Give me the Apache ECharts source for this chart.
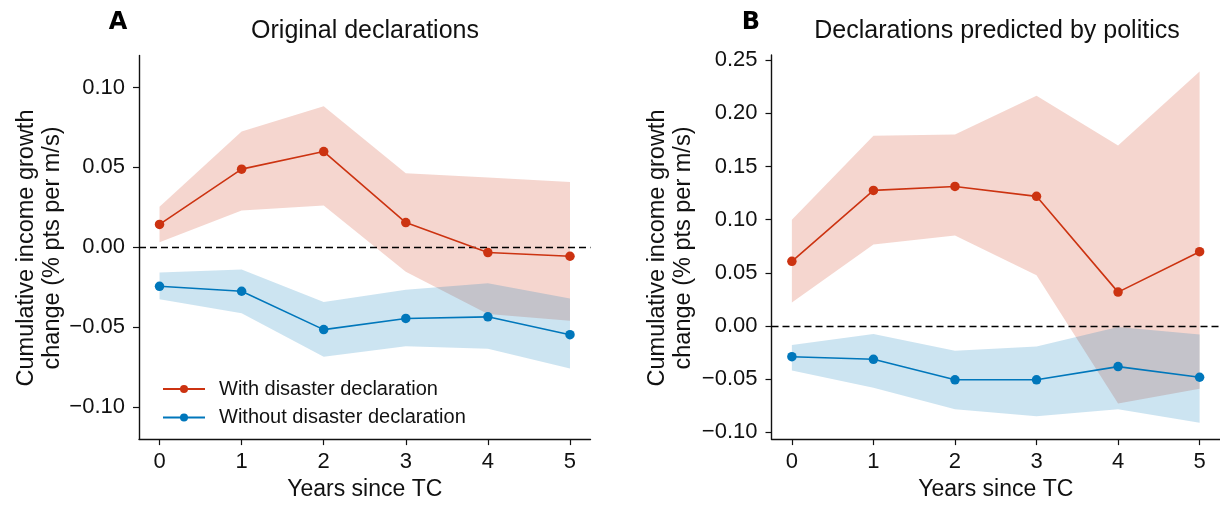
<!DOCTYPE html>
<html>
<head>
<meta charset="utf-8">
<script src="https://cdn.jsdelivr.net/npm/echarts@6/dist/echarts.min.js"></script>
<style>
html,body{margin:0;padding:0;background:#fff;}
#chart{width:1220px;height:506px;}
</style>
</head>
<body>
<div id="chart"></div>
<script>
// ---- data ----
const years = [0, 1, 2, 3, 4, 5];
const yTicksA = [-0.10, -0.05, 0.00, 0.05, 0.10];
const yTicksB = [-0.10, -0.05, 0.00, 0.05, 0.10, 0.15, 0.20, 0.25];

// Panel A: Original declarations
const aWith      = [0.0143, 0.0489, 0.0599, 0.0155, -0.0033, -0.0056];
const aWithLo    = [0.0031, 0.0230, 0.0261, -0.0153, -0.0418, -0.0460];
const aWithHi    = [0.0253, 0.0725, 0.0882, 0.0464, 0.0437, 0.0408];
const aWithout   = [-0.0244, -0.0275, -0.0515, -0.0445, -0.0435, -0.0547];
const aWithoutLo = [-0.0325, -0.0412, -0.0685, -0.0619, -0.0635, -0.0758];
const aWithoutHi = [-0.0157, -0.0139, -0.0342, -0.0265, -0.0225, -0.0321];

// Panel B: Declarations predicted by politics
const bWith      = [0.0608, 0.1275, 0.1312, 0.1219, 0.0318, 0.0698];
const bWithLo    = [0.0221, 0.0766, 0.0850, 0.0477, -0.0729, -0.0592];
const bWithHi    = [0.1000, 0.1790, 0.1800, 0.2165, 0.1698, 0.2393];
const bWithout   = [-0.0290, -0.0314, -0.0507, -0.0507, -0.0383, -0.0483];
const bWithoutLo = [-0.0420, -0.0582, -0.0785, -0.0850, -0.0785, -0.0912];
const bWithoutHi = [-0.0180, -0.0075, -0.0234, -0.0193, -0.0010, -0.0080];

const seriesNames = ['With disaster declaration', 'Without disaster declaration'];
const titles = ['Original declarations', 'Declarations predicted by politics'];
const panelLetters = ['A', 'B'];
const yName = 'Cumulative income growth\nchange (% pts per m/s)';
const xName = 'Years since TC';

// ---- style ----
const RED = '#cc3311', BLUE = '#0077bb';
const FONT = '"Liberation Sans", Arial, Helvetica, sans-serif';
const TXT = '#111';

const chart = echarts.init(document.getElementById('chart'), null, {renderer: 'canvas'});

function fmt(v) {
  const s = Math.abs(v).toFixed(2);
  return (v < -1e-9 ? '\u2212' : '') + s;
}

function band(idx, lo, hi, color) {
  return {
    type: 'custom',
    xAxisIndex: idx, yAxisIndex: idx,
    silent: true,
    z: 1,
    data: years.map((x, i) => [x, lo[i], hi[i]]),
    encode: {x: 0, y: [1, 2]},
    renderItem: function (params, api) {
      if (params.dataIndex !== 0) return null;
      const pts = [];
      for (let i = 0; i < years.length; i++) pts.push(api.coord([years[i], hi[i]]));
      for (let i = years.length - 1; i >= 0; i--) pts.push(api.coord([years[i], lo[i]]));
      return {type: 'polygon', shape: {points: pts}, style: {fill: color}};
    }
  };
}

function lineS(idx, name, vals, color, withZero) {
  const s = {
    type: 'line', name: name,
    xAxisIndex: idx, yAxisIndex: idx,
    data: years.map((x, i) => [x, vals[i]]),
    symbol: 'circle', symbolSize: 9.5,
    itemStyle: {color: color},
    lineStyle: {color: color, width: 1.6},
    z: 5,
    animation: false
  };
  if (withZero) {
    s.markLine = {
      silent: true, symbol: 'none', animation: false,
      label: {show: false},
      lineStyle: {color: '#000', type: [7, 4], width: 1.3},
      data: [{yAxis: 0}]
    };
  }
  return s;
}

const grids = [
  {left: 139, top: 55.5, width: 451.5, height: 386.4},
  {left: 771.5, top: 55, width: 451.5, height: 386.7}
];
const yRanges = [[-0.12, 0.12], [-0.1065, 0.2549]];
const yTicks = [yTicksA, yTicksB];

function axisLineStyle() {
  return {show: true, onZero: false, lineStyle: {color: '#111', width: 1.4}};
}
function tickStyle(vals) {
  return {show: true, inside: false, length: 6, customValues: vals, lineStyle: {color: '#111', width: 1.2}};
}

const option = {
  animation: false,
  backgroundColor: '#fff',
  textStyle: {fontFamily: FONT},
  grid: grids.map(g => Object.assign({containLabel: false}, g)),
  xAxis: [0, 1].map(i => ({
    type: 'value', gridIndex: i,
    min: -0.25, max: 5.25,
    axisLine: axisLineStyle(),
    axisTick: tickStyle(years),
    splitLine: {show: false},
    axisLabel: {customValues: years, margin: 12, fontSize: 22, color: TXT, fontFamily: FONT},
    name: xName, nameLocation: 'middle', nameGap: 38,
    nameTextStyle: {fontSize: 23, color: TXT, fontFamily: FONT}
  })),
  yAxis: [0, 1].map(i => ({
    type: 'value', gridIndex: i,
    min: yRanges[i][0], max: yRanges[i][1],
    axisLine: axisLineStyle(),
    axisTick: tickStyle(yTicks[i]),
    splitLine: {show: false},
    axisLabel: {customValues: yTicks[i], margin: 14, fontSize: 22, color: TXT, fontFamily: FONT, formatter: fmt}
  })),
  legend: {
    show: true,
    data: seriesNames,
    orient: 'vertical',
    left: 157, top: 374,
    itemWidth: 42, itemHeight: 10,
    itemGap: 8.5,
    textStyle: {fontSize: 20, color: TXT, fontFamily: FONT, padding: [0, 0, 0, 9]},
    selectedMode: false
  },
  graphic: [
    {type: 'text', x: 118, y: 23, style: {text: panelLetters[0], font: 'bold 24px "DejaVu Sans", sans-serif', fill: '#000', align: 'center', verticalAlign: 'middle'}},
    {type: 'text', x: 751, y: 23, style: {text: panelLetters[1], font: 'bold 24px "DejaVu Sans", sans-serif', fill: '#000', align: 'center', verticalAlign: 'middle'}},
    {type: 'text', x: 365, y: 31.5, style: {text: titles[0], font: '25px ' + FONT, fill: TXT, align: 'center', verticalAlign: 'middle'}},
    {type: 'text', x: 997, y: 31.5, style: {text: titles[1], font: '25px ' + FONT, fill: TXT, align: 'center', verticalAlign: 'middle'}},
    {type: 'text', x: 40, y: 248, rotation: Math.PI / 2, style: {text: yName, font: '23.5px ' + FONT, fill: TXT, align: 'center', verticalAlign: 'middle', lineHeight: 26}},
    {type: 'text', x: 671, y: 248, rotation: Math.PI / 2, style: {text: yName, font: '23.5px ' + FONT, fill: TXT, align: 'center', verticalAlign: 'middle', lineHeight: 26}}
  ],
  series: [
    band(0, aWithLo, aWithHi, 'rgba(204,51,17,0.2)'),
    band(0, aWithoutLo, aWithoutHi, 'rgba(0,119,187,0.2)'),
    lineS(0, seriesNames[0], aWith, RED, true),
    lineS(0, seriesNames[1], aWithout, BLUE, false),
    band(1, bWithLo, bWithHi, 'rgba(204,51,17,0.2)'),
    band(1, bWithoutLo, bWithoutHi, 'rgba(0,119,187,0.2)'),
    lineS(1, seriesNames[0], bWith, RED, true),
    lineS(1, seriesNames[1], bWithout, BLUE, false)
  ]
};
chart.setOption(option);
</script>
</body>
</html>
